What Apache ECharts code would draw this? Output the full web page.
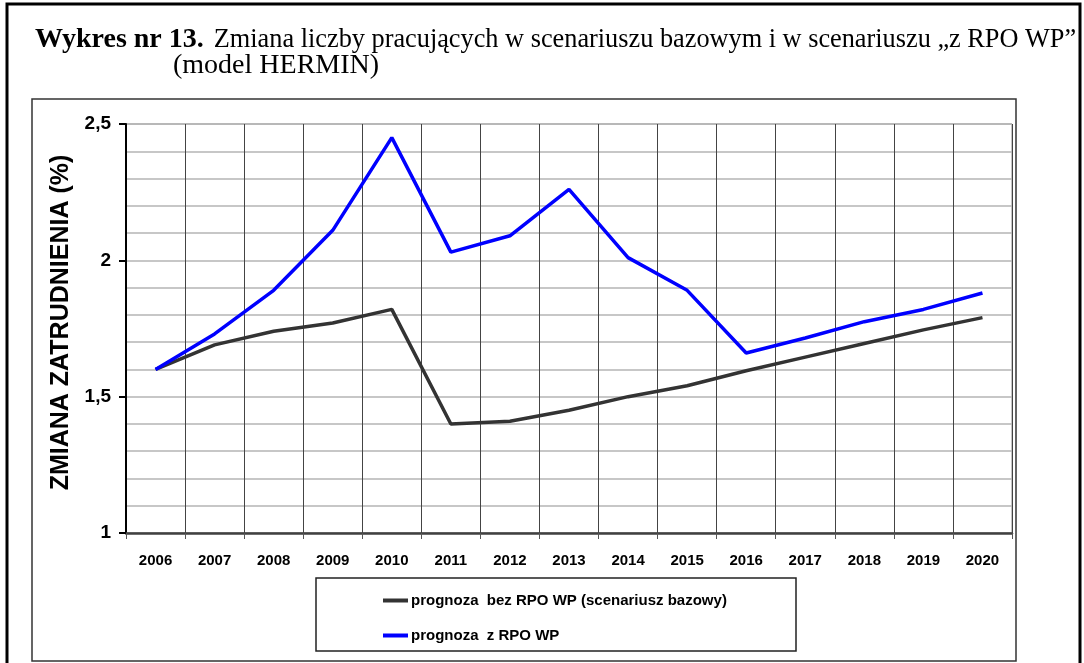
<!DOCTYPE html>
<html>
<head>
<meta charset="utf-8">
<script src="https://cdn.jsdelivr.net/npm/echarts@6/dist/echarts.min.js"></script>
<style>
  html, body { margin: 0; padding: 0; background: #fff; }
  #main { width: 1084px; height: 663px; }
</style>
</head>
<body>
<div id="main"></div>
<script>
// lata (oś X)
var years = ['2006', '2007', '2008', '2009', '2010', '2011', '2012', '2013', '2014', '2015', '2016', '2017', '2018', '2019', '2020'];
// prognoza bez RPO WP (scenariusz bazowy)
var bazowy = [1.60, 1.69, 1.74, 1.77, 1.82, 1.40, 1.41, 1.45, 1.50, 1.54, 1.595, 1.645, 1.695, 1.745, 1.79];
// prognoza z RPO WP
var zRpo = [1.60, 1.73, 1.89, 2.11, 2.45, 2.03, 2.09, 2.26, 2.01, 1.89, 1.66, 1.715, 1.775, 1.82, 1.88];
var seriesNames = ['prognoza  bez RPO WP (scenariusz bazowy)', 'prognoza  z RPO WP'];

var sans = "'Liberation Sans', Arial, sans-serif";
var serif = "'Liberation Serif', 'Times New Roman', serif";

var chart = echarts.init(document.getElementById('main'));
chart.setOption({
  backgroundColor: '#fff',
  animation: false,
  title: [
    {
      left: 35,
      top: 26,
      padding: 0,
      text: '{b|Wykres nr 13.}{n|Zmiana liczby pracujących w scenariuszu bazowym i w scenariuszu „z RPO WP”}',
      textStyle: {
        rich: {
          b: { fontFamily: serif, fontSize: 28, fontWeight: 'bold', color: '#000', padding: [0, 10, 0, 0] },
          n: { fontFamily: serif, fontSize: 26.3, fontWeight: 'normal', color: '#000' }
        }
      }
    },
    {
      left: 173,
      top: 52,
      padding: 0,
      text: '(model HERMIN)',
      textStyle: { fontFamily: serif, fontSize: 28, fontWeight: 'normal', color: '#000' }
    }
  ],
  graphic: [
    { type: 'rect', shape: { x: 7, y: 4, width: 1073, height: 700 }, style: { fill: 'none', stroke: '#000', lineWidth: 3 } },
    { type: 'rect', shape: { x: 32, y: 99, width: 984, height: 562 }, style: { fill: 'none', stroke: '#333', lineWidth: 1.5 } },
    { type: 'rect', shape: { x: 316, y: 578, width: 480, height: 73 }, style: { fill: 'none', stroke: '#222', lineWidth: 1.5 } }
  ],
  legend: {
    orient: 'vertical',
    left: 383,
    top: 593,
    padding: 0,
    itemWidth: 25,
    itemHeight: 4,
    itemGap: 20,
    icon: 'rect',
    data: seriesNames,
    textStyle: { fontFamily: sans, fontSize: 15, fontWeight: 'bold', color: '#000', padding: [0, 0, 0, -2] }
  },
  grid: {
    left: 126,
    top: 124,
    width: 886,
    height: 409,
    show: true,
    borderColor: '#888',
    borderWidth: 1
  },
  xAxis: {
    type: 'category',
    data: years,
    boundaryGap: true,
    axisLine: { lineStyle: { color: '#404040', width: 2.5 } },
    axisTick: { show: true, length: 6, lineStyle: { color: '#555', width: 1 } },
    axisLabel: { fontFamily: sans, fontSize: 15, fontWeight: 'bold', color: '#000', margin: 20 },
    splitLine: { show: true, lineStyle: { color: '#444', width: 1 } }
  },
  yAxis: {
    type: 'value',
    min: 1,
    max: 2.5,
    interval: 0.5,
    name: 'ZMIANA ZATRUDNIENIA (%)',
    nameLocation: 'middle',
    nameRotate: 90,
    nameGap: 50,
    nameTextStyle: { fontFamily: sans, fontSize: 25, fontWeight: 'bold', color: '#000', padding: [0, 0, 0, 12] },
    axisLine: { show: true, lineStyle: { color: '#000', width: 2 } },
    axisTick: { show: true, length: 7, lineStyle: { color: '#000', width: 2 } },
    axisLabel: {
      fontFamily: sans, fontSize: 19, fontWeight: 'bold', color: '#000', margin: 15,
      formatter: function (v) { return String(v).replace('.', ','); }
    },
    splitLine: { show: true, lineStyle: { color: '#b5b5b5', width: 1.5 } },
    minorTick: { show: false, splitNumber: 5 },
    minorSplitLine: { show: true, lineStyle: { color: '#b5b5b5', width: 1.5 } }
  },
  series: [
    {
      name: seriesNames[0],
      type: 'line',
      data: bazowy,
      symbol: 'none',
      color: '#333333',
      lineStyle: { color: '#333333', width: 3.5 }
    },
    {
      name: seriesNames[1],
      type: 'line',
      data: zRpo,
      symbol: 'none',
      color: '#0000ff',
      lineStyle: { color: '#0000ff', width: 3.5 }
    }
  ]
});
</script>
</body>
</html>
